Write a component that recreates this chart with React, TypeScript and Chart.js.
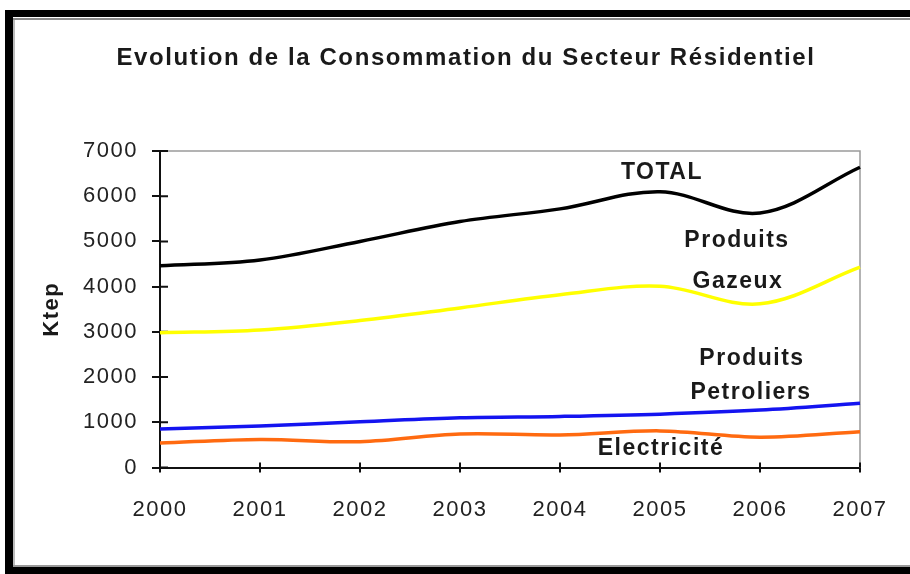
import { useEffect, useRef } from 'react';
import { Chart, registerables } from 'chart.js';

Chart.register(...registerables);

const chartTitle = 'Evolution de la Consommation du Secteur Résidentiel';
const yAxisTitle = 'Ktep';
const years = ['2000', '2001', '2002', '2003', '2004', '2005', '2006', '2007'];
const total = [4460, 4590, 5000, 5440, 5720, 6100, 5630, 6640];
const produitsGazeux = [2980, 3040, 3250, 3530, 3820, 4010, 3620, 4430];
const produitsPetroliers = [850, 920, 1010, 1100, 1130, 1180, 1270, 1420];
const electricite = [540, 620, 570, 740, 720, 810, 670, 790];
const yMin = 0;
const yMax = 7000;
const yStep = 1000;

// in-chart series labels, anchored in data units (category index, Ktep)
const seriesLabels = [
  { text: 'TOTAL', x: 5.02, y: 6520 },
  { text: 'Produits', x: 5.77, y: 5020 },
  { text: 'Gazeux', x: 5.78, y: 4120 },
  { text: 'Produits', x: 5.92, y: 2400 },
  { text: 'Petroliers', x: 5.91, y: 1650 },
  { text: 'Electricité', x: 5.01, y: 420 },
];

const FONT = '"Liberation Sans", Arial, sans-serif';

export default function App() {
  const ref = useRef<HTMLCanvasElement>(null);

  useEffect(() => {
    const canvas = ref.current;
    if (!canvas) return;

    const decor = {
      id: 'decor',
      beforeDraw(chart: any) {
        chart.ctx.letterSpacing = '1.5px';
      },
      beforeDatasetsDraw(chart: any) {
        const { ctx, chartArea: a, scales } = chart;
        ctx.save();
        ctx.strokeStyle = '#9a9a9a';
        ctx.lineWidth = 1.5;
        ctx.beginPath();
        ctx.moveTo(a.left, a.top);
        ctx.lineTo(a.right, a.top);
        ctx.lineTo(a.right, a.bottom);
        ctx.stroke();
        ctx.strokeStyle = '#111';
        ctx.lineWidth = 2;
        ctx.beginPath();
        scales.y.ticks.forEach((_t: any, i: number) => {
          const py = scales.y.getPixelForTick(i);
          ctx.moveTo(a.left, py);
          ctx.lineTo(a.left + 8, py);
        });
        scales.x.ticks.forEach((_t: any, i: number) => {
          const px = scales.x.getPixelForTick(i);
          ctx.moveTo(px, a.bottom);
          ctx.lineTo(px, a.bottom - 5);
        });
        ctx.stroke();
        ctx.restore();
      },
      afterDatasetsDraw(chart: any) {
        const { ctx, scales } = chart;
        ctx.save();
        ctx.font = `bold 23px ${FONT}`;
        ctx.fillStyle = '#1a1a1a';
        ctx.textAlign = 'center';
        ctx.textBaseline = 'middle';
        ctx.letterSpacing = '1.5px';
        seriesLabels.forEach((l) => {
          ctx.fillText(l.text, scales.x.getPixelForValue(l.x), scales.y.getPixelForValue(l.y));
        });
        // chart title
        ctx.font = `bold 24px ${FONT}`;
        ctx.letterSpacing = '1.6px';
        ctx.fillText(chartTitle, 466, 58);
        ctx.restore();
      },
    };

    const mk = (label: string, data: number[], color: string, width: number) => ({
      label,
      data,
      borderColor: color,
      backgroundColor: color,
      borderWidth: width,
      pointRadius: 0,
      tension: 0.35,
      fill: false,
    });

    const chart = new Chart(canvas, {
      type: 'line',
      data: {
        labels: years,
        datasets: [
          mk('Electricité', electricite, '#ff6a10', 3.5),
          mk('Produits Petroliers', produitsPetroliers, '#1414f0', 3.5),
          mk('Produits Gazeux', produitsGazeux, '#ffff00', 3.5),
          mk('TOTAL', total, '#000000', 3.5),
        ],
      },
      options: {
        responsive: false,
        animation: false,
        devicePixelRatio: 1,
        layout: { padding: { left: 20, right: 50, top: 151, bottom: 0 } },
        plugins: {
          legend: { display: false },
          tooltip: { enabled: false },
          title: { display: false },
        },
        scales: {
          x: {
            type: 'category',
            offset: false,
            afterFit: (s: any) => {
              s.height = 106.5;
            },
            grid: {
              display: true,
              drawOnChartArea: false,
              drawTicks: true,
              tickLength: 5,
              color: '#111',
              lineWidth: 2,
            },
            border: { display: true, color: '#111', width: 2 },
            ticks: {
              color: '#222',
              font: { family: FONT, size: 22 },
              padding: 24,
              maxRotation: 0,
              autoSkip: false,
            },
          },
          y: {
            min: yMin,
            max: yMax,
            afterFit: (s: any) => {
              s.width = 140;
            },
            grid: {
              display: true,
              drawOnChartArea: false,
              drawTicks: true,
              tickLength: 8,
              color: '#111',
              lineWidth: 2,
            },
            border: { display: true, color: '#111', width: 2 },
            ticks: {
              stepSize: yStep,
              color: '#222',
              font: { family: FONT, size: 22 },
              padding: 14,
              callback: (v: any) => String(v),
            },
            title: {
              display: true,
              text: yAxisTitle,
              color: '#1a1a1a',
              font: { family: FONT, size: 22, weight: 'bold', lineHeight: 1.2 },
              padding: { top: 19, bottom: 0 },
            },
          },
        },
      },
      plugins: [decor],
    });

    return () => chart.destroy();
  }, []);

  return (
    <div style={{ position: 'fixed', left: 0, top: 0, width: 910, height: 574, background: '#fff', overflow: 'hidden' }}>
      <canvas ref={ref} width={910} height={574} style={{ position: 'absolute', left: 0, top: 0, display: 'block' }} />
      <div style={{ position: 'absolute', left: 5, top: 10, width: 905, height: 7, background: '#000' }} />
      <div style={{ position: 'absolute', left: 12, top: 18, width: 898, height: 2, background: '#888' }} />
      <div style={{ position: 'absolute', left: 5, top: 10, width: 8, height: 564, background: '#000' }} />
      <div style={{ position: 'absolute', left: 13, top: 20, width: 2, height: 546, background: '#bbb' }} />
      <div style={{ position: 'absolute', left: 5, top: 567, width: 905, height: 7, background: '#000' }} />
      <div style={{ position: 'absolute', left: 13, top: 565, width: 897, height: 2, background: '#999' }} />
    </div>
  );
}
